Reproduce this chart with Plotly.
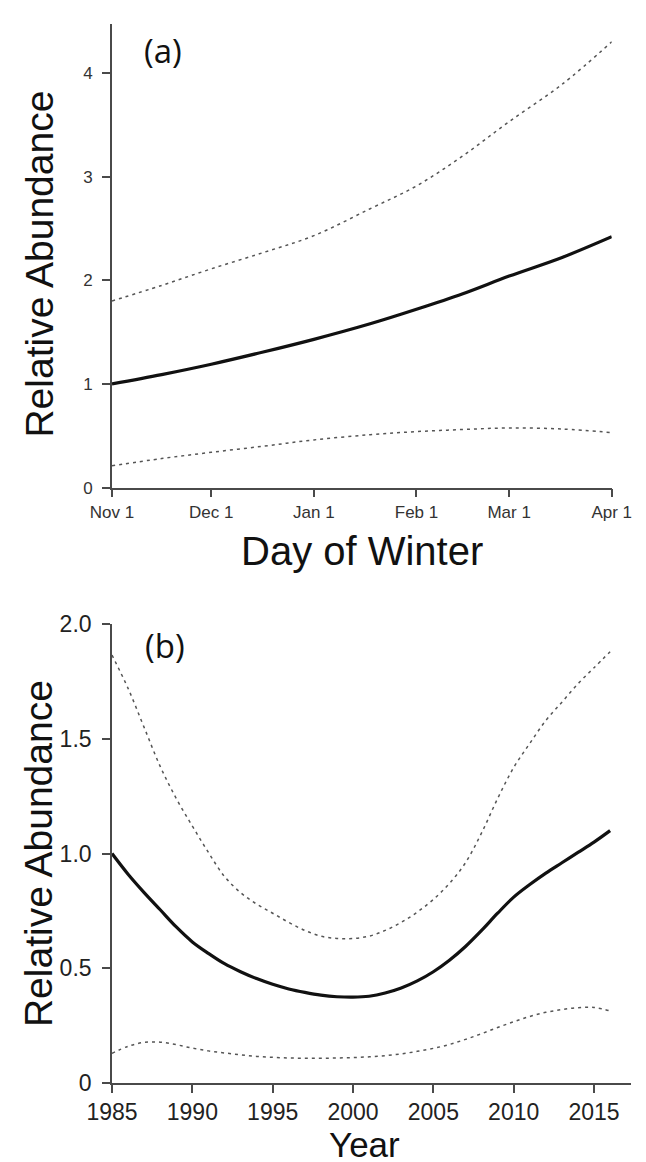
import plotly.graph_objects as go

# ---------------- data: panel (a) ----------------
# days since Nov 1
a_days = [0, 15, 30, 46, 61, 78, 92, 106, 120, 136, 151]
a_fit = [1.00, 1.09, 1.19, 1.31, 1.43, 1.58, 1.72, 1.87, 2.04, 2.22, 2.42]
a_upper = [1.80, 1.95, 2.11, 2.27, 2.43, 2.69, 2.91, 3.20, 3.53, 3.89, 4.30]
a_lower = [0.21, 0.28, 0.34, 0.40, 0.46, 0.51, 0.54, 0.56, 0.575, 0.565, 0.53]
a_tickvals = [0, 30, 61, 92, 120, 151]
a_ticktext = ["Nov 1", "Dec 1", "Jan 1", "Feb 1", "Mar 1", "Apr 1"]

# ---------------- data: panel (b) ----------------
b_years = [1985, 1986, 1987, 1988, 1989, 1990, 1991, 1992, 1993, 1994, 1995,
           1996, 1997, 1998, 1999, 2000, 2001, 2002, 2003, 2004, 2005,
           2006, 2007, 2008, 2009, 2010, 2011, 2012, 2013, 2014, 2015, 2016]
b_fit = [1.00, 0.91, 0.83, 0.755, 0.68, 0.615, 0.565, 0.52, 0.485, 0.455, 0.43,
         0.41, 0.395, 0.383, 0.376, 0.374, 0.378, 0.392, 0.414, 0.445, 0.485,
         0.535, 0.595, 0.665, 0.74, 0.81, 0.865, 0.915, 0.96, 1.005, 1.05, 1.10]
b_upper = [1.865, 1.72, 1.55, 1.38, 1.24, 1.12, 1.005, 0.90, 0.83, 0.78, 0.74,
           0.70, 0.665, 0.64, 0.63, 0.63, 0.64, 0.665, 0.70, 0.745, 0.80,
           0.87, 0.96, 1.09, 1.24, 1.375, 1.48, 1.58, 1.66, 1.74, 1.81, 1.88]
b_lower = [0.129, 0.16, 0.177, 0.178, 0.167, 0.152, 0.14, 0.131, 0.123, 0.116, 0.112,
           0.109, 0.108, 0.108, 0.109, 0.111, 0.114, 0.119, 0.127, 0.138, 0.151,
           0.168, 0.19, 0.215, 0.242, 0.267, 0.29, 0.308, 0.32, 0.328, 0.329, 0.314]
b_xticks = [1985, 1990, 1995, 2000, 2005, 2010, 2015]
b_yticks = [0, 0.5, 1.0, 1.5, 2.0]
b_yticktext = ["0", "0.5", "1.0", "1.5", "2.0"]

# ---------------- layout geometry ----------------
W, H = 646, 1162
ML, MR, MT, MB = 104, 3, 15, 87
PW = W - ML - MR
PH = H - MT - MB


def px_x(px):
    return (px - ML) / PW


def px_y(py):
    return (H - MB - py) / PH


FONT = "Liberation Sans, Arial, Helvetica, sans-serif"
AXC = "#4a4a4a"
fit_line = dict(color="#111111", width=3.2, shape="spline", smoothing=1.0)
ci_line = dict(color="#555555", width=1.5, dash="3px,4px", shape="spline", smoothing=1.0)

fig = go.Figure()
fig.add_trace(go.Scatter(x=a_days, y=a_upper, mode="lines", line=ci_line, xaxis="x", yaxis="y"))
fig.add_trace(go.Scatter(x=a_days, y=a_lower, mode="lines", line=ci_line, xaxis="x", yaxis="y"))
fig.add_trace(go.Scatter(x=a_days, y=a_fit, mode="lines", line=fit_line, xaxis="x", yaxis="y"))
fig.add_trace(go.Scatter(x=b_years, y=b_upper, mode="lines", line=ci_line, xaxis="x2", yaxis="y2"))
fig.add_trace(go.Scatter(x=b_years, y=b_lower, mode="lines", line=ci_line, xaxis="x2", yaxis="y2"))
fig.add_trace(go.Scatter(x=b_years, y=b_fit, mode="lines", line=fit_line, xaxis="x2", yaxis="y2"))

common = dict(showline=True, linecolor=AXC, linewidth=1.6, ticks="outside", ticklen=8,
              tickwidth=1.6, tickcolor=AXC, showgrid=False, zeroline=False, mirror=False)

fig.update_layout(
    width=W, height=H,
    margin=dict(l=ML, r=MR, t=MT, b=MB),
    paper_bgcolor="white", plot_bgcolor="white",
    showlegend=False,
    xaxis=dict(domain=[0, px_x(623)], anchor="y", range=[0, 151],
               tickvals=a_tickvals, ticktext=a_ticktext,
               tickfont=dict(family=FONT, size=17, color="#333333"), **common),
    yaxis=dict(domain=[px_y(479), 1.0], anchor="x", range=[0, 4.472],
               tickvals=[0, 1, 2, 3, 4], ticklabelstandoff=6,
               tickfont=dict(family=FONT, size=17, color="#333333"), **common),
    xaxis2=dict(domain=[0, 1.0], anchor="y2", range=[1985, 2017.3],
                tickvals=b_xticks,
                tickfont=dict(family=FONT, size=23, color="#222222"), **common),
    yaxis2=dict(domain=[0, px_y(615.7)], anchor="x2", range=[0, 2.0],
                tickvals=b_yticks, ticktext=b_yticktext, ticklabelstandoff=6,
                tickfont=dict(family=FONT, size=23, color="#222222"), **common),
)

ann = [
    dict(text="Relative Abundance", x=px_x(29), y=px_y(255), textangle=-90, size=39,
         fam=FONT, ya="middle"),
    dict(text="Relative Abundance", x=px_x(27), y=px_y(845), textangle=-90, size=39,
         fam=FONT, ya="middle"),
    dict(text="Day of Winter", x=px_x(364), y=px_y(542), textangle=0, size=40,
         fam=FONT, ya="middle"),
    dict(text="Year", x=px_x(366), y=px_y(1157), textangle=0, size=35,
         fam=FONT, ya="bottom"),
    dict(text="(a)", x=px_x(157), y=px_y(42), textangle=0, size=33,
         fam="Open Sans, sans-serif", ya="middle"),
    dict(text="(b)", x=px_x(159), y=px_y(637), textangle=0, size=33,
         fam="Open Sans, sans-serif", ya="middle"),
]
for a in ann:
    fig.add_annotation(text=a["text"], x=a["x"], y=a["y"], xref="paper", yref="paper",
                       xanchor="center", yanchor=a["ya"], showarrow=False,
                       textangle=a["textangle"], borderpad=0,
                       font=dict(family=a["fam"], size=a["size"], color="#111111"))

fig.write_html("out.html")
